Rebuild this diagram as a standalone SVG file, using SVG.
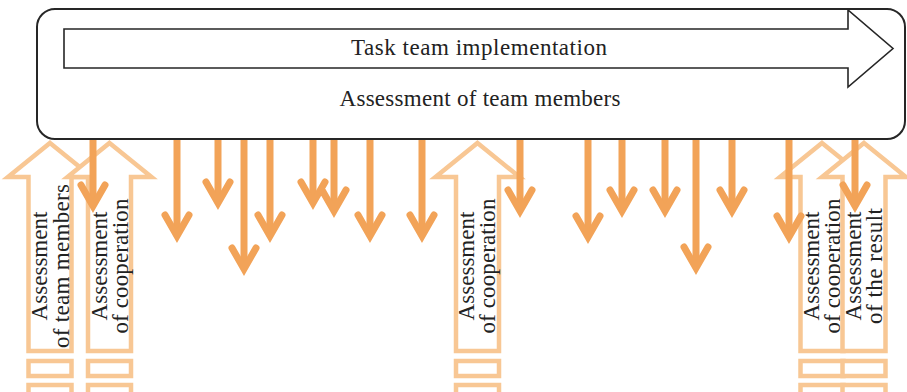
<svg xmlns="http://www.w3.org/2000/svg" width="907" height="392" viewBox="0 0 907 392">
<style>
.frame{fill:#fff;stroke:#262626;stroke-width:2}
.inner{fill:#fff;stroke:#262626;stroke-width:1.6;stroke-linejoin:miter}
.t{font-family:"Liberation Serif","Times New Roman",serif;font-size:23px;fill:#222;text-anchor:middle}
.up{fill:#fff;stroke:#F8C794;stroke-width:4.5;stroke-linejoin:miter;stroke-miterlimit:10}
.box{fill:#fff;stroke:#F8C794;stroke-width:4.5}
.dn{fill:none;stroke:#F2A358;stroke-width:7;stroke-linecap:butt}
.hd{fill:none;stroke:#F2A358;stroke-width:7;stroke-linecap:round;stroke-linejoin:miter;stroke-miterlimit:10}
</style>
<defs>
<g id="hollow">
<path class="up" d="M0,143 L42,177 L21.5,177 L21.5,351 L-21.5,351 L-21.5,177 L-42,177 Z"/>
<rect class="box" x="-21.5" y="361" width="43" height="15"/>
<rect class="box" x="-21.5" y="385" width="43" height="20"/>
</g>
</defs>
<g id="main">
<rect class="frame" x="37" y="9" width="868" height="130" rx="18" ry="18"/>
<path class="inner" d="M64,29 L848,29 L848,10 L893,48.5 L848,87 L848,68 L64,68 Z"/>
<text class="t" x="479" y="55" textLength="256" lengthAdjust="spacing">Task team implementation</text>
<text class="t" x="480" y="106" textLength="281" lengthAdjust="spacing">Assessment of team members</text>
</g>
<g id="up1">
<use href="#hollow" x="50"/>
<g transform="translate(50,266) rotate(-90)">
<text class="t" x="0" y="-3" textLength="109" lengthAdjust="spacing">Assessment</text>
<text class="t" x="0" y="19" textLength="164" lengthAdjust="spacing">of team members</text>
</g>
</g>
<g id="up2">
<use href="#hollow" x="109.5"/>
<g transform="translate(109.5,266) rotate(-90)">
<text class="t" x="0" y="-3" textLength="109" lengthAdjust="spacing">Assessment</text>
<text class="t" x="0" y="18" textLength="135" lengthAdjust="spacing">of cooperation</text>
</g>
</g>
<g id="up3">
<use href="#hollow" x="477.5"/>
<g transform="translate(477.5,266) rotate(-90)">
<text class="t" x="0" y="-4" textLength="109" lengthAdjust="spacing">Assessment</text>
<text class="t" x="0" y="17" textLength="135" lengthAdjust="spacing">of cooperation</text>
</g>
</g>
<g id="up4">
<use href="#hollow" x="822"/>
<g transform="translate(822,266) rotate(-90)">
<text class="t" x="0" y="-3" textLength="109" lengthAdjust="spacing">Assessment</text>
<text class="t" x="0" y="18" textLength="135" lengthAdjust="spacing">of cooperation</text>
</g>
</g>
<g id="up5">
<use href="#hollow" x="864"/>
<g transform="translate(864,266) rotate(-90)">
<text class="t" x="0" y="-3" textLength="109" lengthAdjust="spacing">Assessment</text>
<text class="t" x="0" y="18" textLength="116" lengthAdjust="spacing">of the result</text>
</g>
</g>
<g id="connectors">
<path class="dn" d="M93,140V206 M177,140V236 M218,140V203 M244,140V269 M270,140V236 M313,140V203 M334,140V211 M370,140V236 M422,140V236 M520,140V211 M588,140V237 M622,140V211 M665,140V211 M696,140V268 M732,140V211 M789,140V237 M855,140V206"/>
<path class="hd" d="M81,185L93,206L105,185 M165,215L177,236L189,215 M206,182L218,203L230,182 M232,248L244,269L256,248 M258,215L270,236L282,215 M301,182L313,203L325,182 M322,190L334,211L346,190 M358,215L370,236L382,215 M410,215L422,236L434,215 M508,190L520,211L532,190 M576,216L588,237L600,216 M610,190L622,211L634,190 M653,190L665,211L677,190 M684,247L696,268L708,247 M720,190L732,211L744,190 M777,216L789,237L801,216 M843,185L855,206L867,185"/>
</g>
</svg>
